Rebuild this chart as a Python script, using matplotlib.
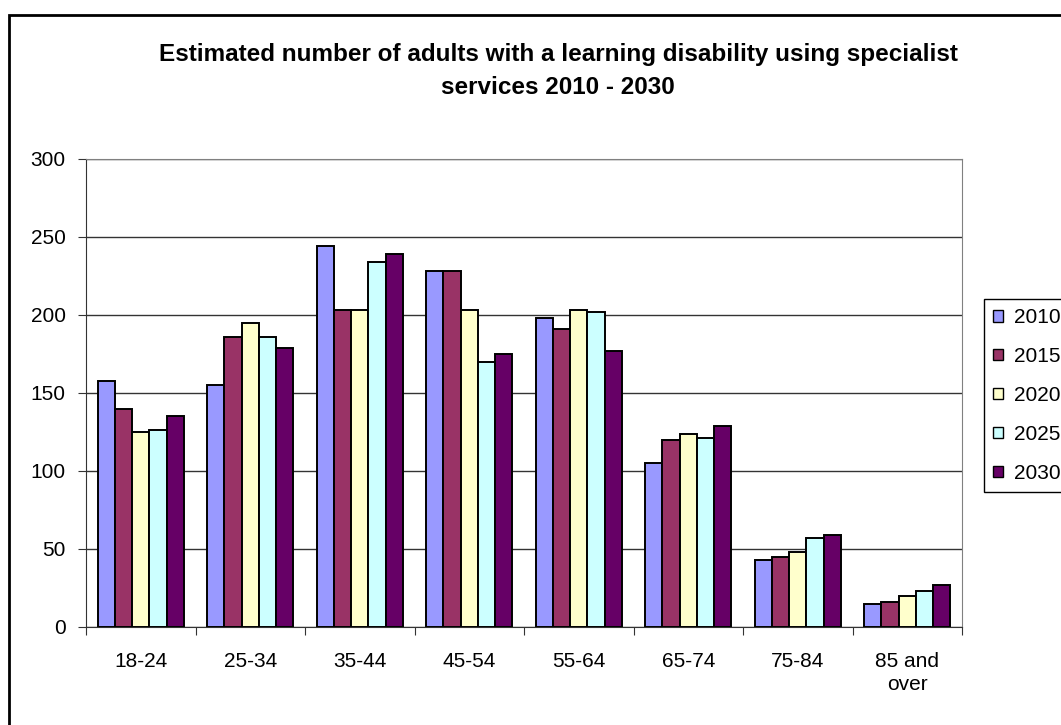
import numpy as np
import matplotlib.pyplot as plt
from matplotlib.patches import Rectangle

plt.rcParams['font.family'] = ['Liberation Sans', 'DejaVu Sans']

# data
groups = ['18-24', '25-34', '35-44', '45-54', '55-64', '65-74', '75-84', '85 and\nover']
years = ['2010', '2015', '2020', '2025', '2030']
v2010 = [158, 155, 244, 228, 198, 105, 43, 15]
v2015 = [140, 186, 203, 228, 191, 120, 45, 16]
v2020 = [125, 195, 203, 203, 203, 124, 48, 20]
v2025 = [126, 186, 234, 170, 202, 121, 57, 23]
v2030 = [135, 179, 239, 175, 177, 129, 59, 27]
series = [v2010, v2015, v2020, v2025, v2030]
colors = ['#9999FF', '#993366', '#FFFFCC', '#CCFFFF', '#660066']

fig = plt.figure(figsize=(10.61, 7.25), dpi=100)
ax = fig.add_axes([86/1061, 1-627/725, 876/1061, 468/725])

x = np.arange(len(groups))
w = 0.157
for i, (vals, c) in enumerate(zip(series, colors)):
    ax.bar(x + (i - 2)*w, vals, width=w, color=c, edgecolor='black',
           linewidth=1.4, label=years[i], zorder=3)

ax.set_xlim(-0.5, len(groups) - 0.5)
ax.set_ylim(0, 300)
ax.set_yticks(np.arange(0, 301, 50))
ax.yaxis.grid(True, color='#333333', linewidth=1, zorder=0)
ax.tick_params(axis='y', labelsize=15, length=6, pad=8.5, color='#333333')

# boundaries as major ticks, group names as minor tick labels
ax.set_xticks(np.arange(-0.5, len(groups), 1))
ax.set_xticklabels([])
ax.set_xticks(x, minor=True)
ax.set_xticklabels(groups, minor=True, fontsize=15, linespacing=1.25)
ax.tick_params(axis='x', which='major', length=6, color='#333333')
ax.tick_params(axis='x', which='minor', length=0, pad=18)

for s in ['top', 'right']:
    ax.spines[s].set_color('#808080')
ax.spines['left'].set_color('#333333')
ax.spines['bottom'].set_color('#333333')

fig.text(0.526, 1-71/725, 'Estimated number of adults with a learning disability using specialist\nservices 2010 - 2030',
         ha='center', va='center', fontsize=17.5, fontweight='bold', linespacing=1.55)

leg = fig.legend(loc='upper left', bbox_to_anchor=(984/1061, 1-299/725), fontsize=15,
                 frameon=True, fancybox=False, edgecolor='black', framealpha=1,
                 handlelength=0.45, handleheight=0.45, handletextpad=0.55,
                 labelspacing=0.95, borderpad=0.45, borderaxespad=0)
leg.get_frame().set_linewidth(1)
for h in leg.legend_handles:
    h.set_linewidth(1)

# outer chart border (right/bottom lie outside the picture)
fig.patches.append(Rectangle((9/1061, -0.1), 1.2, 1.1 - 15/725, transform=fig.transFigure,
                             fill=False, edgecolor='black', linewidth=2))

fig.savefig('out.png', dpi=100)
